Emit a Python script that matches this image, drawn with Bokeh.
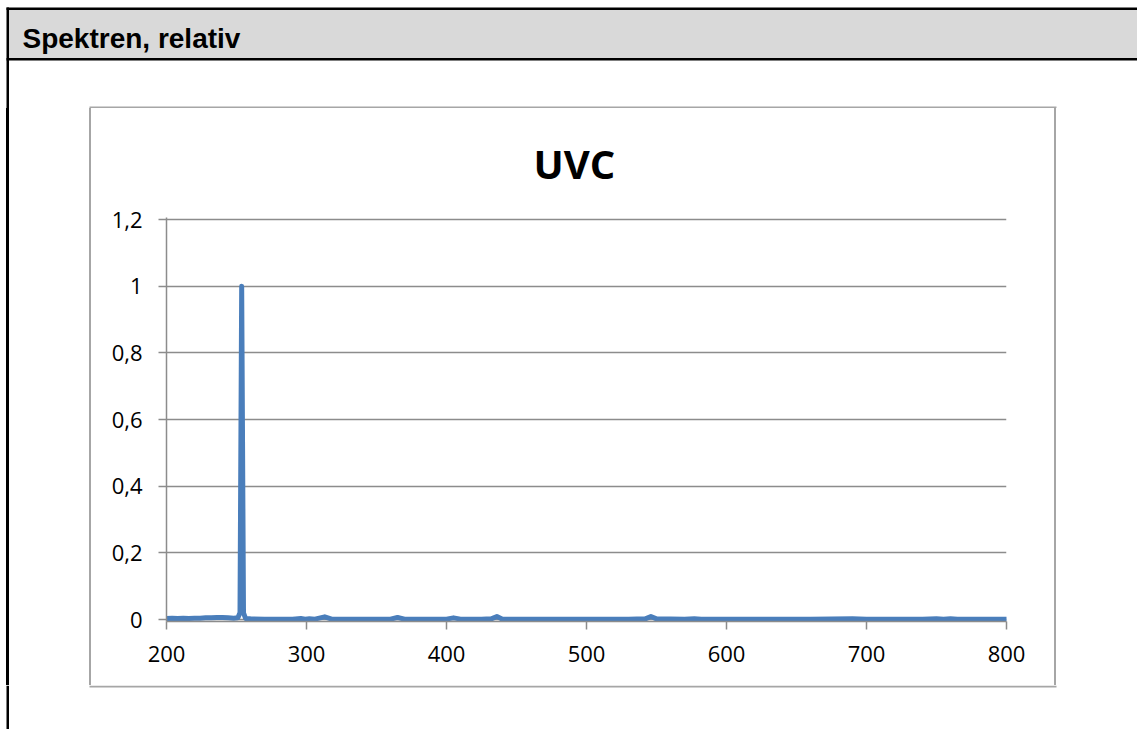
from bokeh.plotting import figure
from bokeh.models import BoxAnnotation, Label, FixedTicker, Range1d, Div
from bokeh.layouts import column, row
from bokeh.embed import file_html
from bokeh.resources import INLINE

# ---- data ----
wavelength = [200, 204, 208, 212, 216, 220, 224, 228, 232, 236, 240, 244, 248, 251, 252.5,
              253.7, 255, 256.5, 260, 270, 280, 290, 296, 299, 302, 306, 313, 318, 330,
              350, 360, 365, 370, 390, 400, 405, 410, 425, 432, 436, 440, 460, 500,
              530, 542, 546, 550, 570, 577, 582, 620, 660, 690, 700, 740, 750, 755,
              760, 765, 780, 800]
relative = [0.003, 0.004, 0.003, 0.004, 0.003, 0.004, 0.004, 0.005, 0.005, 0.006, 0.006, 0.005,
            0.004, 0.005, 0.02,
            1.0, 0.02, 0.003, 0.002, 0.001, 0.001, 0.001, 0.003, 0.001, 0.002, 0.001, 0.008, 0.001, 0.001,
            0.001, 0.001, 0.006, 0.001, 0.001, 0.001, 0.005, 0.001, 0.001, 0.002, 0.009, 0.001, 0.001, 0.001,
            0.001, 0.002, 0.009, 0.002, 0.001, 0.002, 0.001, 0.001, 0.001, 0.002, 0.001, 0.001, 0.002, 0.001,
            0.002, 0.001, 0.001, 0.001]

x_ticks = [200, 300, 400, 500, 600, 700, 800]
y_ticks = [0, 0.2, 0.4, 0.6, 0.8, 1.0, 1.2]
y_tick_labels = ["0", "0,2", "0,4", "0,6", "0,8", "1", "1,2"]

header_text = "Spektren, relativ"
chart_title = "UVC"

W = 1137
TOP_H = 108          # header strip (up to the chart box top edge)
MID_H = 577          # chart box interior height
BOT_H = 44
LEFT_W = 91
MAIN_W = 963
RIGHT_W = W - LEFT_W - MAIN_W

BLACK = "black"
BAND = "#d9d9d9"
BOXLINE = "#a6a6a6"


def deco(width, height):
    """A figure whose frame covers the whole canvas, for decoration only."""
    f = figure(width=width, height=height, output_backend="svg", toolbar_location=None,
               x_range=Range1d(0, width), y_range=Range1d(height, 0),
               x_axis_type=None, y_axis_type=None, min_border=0)
    f.min_border_left = f.min_border_right = f.min_border_top = f.min_border_bottom = 0
    f.outline_line_color = None
    f.grid.visible = False
    f.background_fill_color = "white"
    f.border_fill_color = "white"
    return f


def rect(f, l, r, t, b, color):
    f.add_layout(BoxAnnotation(left=l, right=r, top=t, bottom=b, fill_color=color,
                               fill_alpha=1, line_color=None))


def vbar_html(left_px, width_px, height, color):
    return ('<div style="position:absolute;left:%spx;top:0;width:%spx;height:%dpx;'
            'background:%s"></div>' % (left_px, width_px, height, color))


# ---- header strip ----
top = deco(W, TOP_H)
rect(top, 6, W, 7, 9.5, BLACK)           # top black rule
rect(top, 8.5, W, 9.5, 57.5, BAND)       # grey header band
rect(top, 6, W, 57.5, 60, BLACK)         # rule under header
rect(top, 6, 8.5, 7, TOP_H, BLACK)       # left black rule
rect(top, 89, 1056, TOP_H - 2, TOP_H, BOXLINE)   # chart box top edge
top.add_layout(Label(x=22, y=38, text=header_text, text_font="Liberation Sans",
                     text_font_style="bold", text_font_size="28px", text_color="black",
                     text_baseline="alphabetic", text_align="left"))

# ---- left / right strips (plain decoration) ----
left = Div(width=LEFT_W, height=MID_H, margin=0,
           text='<div style="position:relative;width:%dpx;height:%dpx">' % (LEFT_W, MID_H)
                + vbar_html(6, 2.5, MID_H, BLACK)
                + vbar_html(LEFT_W - 2, 2, MID_H, BOXLINE) + '</div>')
right = Div(width=RIGHT_W, height=MID_H, margin=0,
            text='<div style="position:relative;width:%dpx;height:%dpx">' % (RIGHT_W, MID_H)
                 + vbar_html(0, 2, MID_H, BOXLINE) + '</div>')

# ---- bottom strip ----
bot = deco(W, BOT_H)
rect(bot, 6, 8.5, 0, BOT_H, BLACK)
rect(bot, 89, 1056, 0, 2, BOXLINE)

# ---- main chart ----
p = figure(width=MAIN_W, height=MID_H, output_backend="svg", toolbar_location=None,
           x_range=Range1d(200, 800), y_range=Range1d(-0.006, 1.206),
           min_border_left=75, min_border_right=48, min_border_top=109,
           min_border_bottom=64)
p.outline_line_color = None
p.background_fill_color = "white"
p.border_fill_color = "white"

p.title.text = chart_title
p.title.align = "left"
p.title.vertical_align = "top"
p.title.text_font = "Open Sans"
p.title.text_font_style = "bold"
p.title.text_font_size = "40px"
p.title.text_color = "black"
p.title.offset = 367
p.title.standoff = 49

p.xgrid.grid_line_color = None
p.ygrid.grid_line_color = "#8c8c8c"
p.ygrid.grid_line_width = 1.5
p.ygrid.ticker = FixedTicker(ticks=y_ticks)

for ax in (p.xaxis[0], p.yaxis[0]):
    ax.axis_line_color = "#8c8c8c"
    ax.axis_line_width = 1.5
    ax.major_tick_line_color = "#8c8c8c"
    ax.major_tick_line_width = 1.5
    ax.major_tick_in = 0
    ax.major_tick_out = 8
    ax.minor_tick_line_color = None
    ax.major_label_text_font = "Open Sans"
    ax.major_label_text_font_size = "22px"
    ax.major_label_text_color = "black"

p.xaxis.ticker = FixedTicker(ticks=x_ticks)
p.yaxis.ticker = FixedTicker(ticks=y_ticks)
p.yaxis.major_label_overrides = {t: l for t, l in zip(y_ticks, y_tick_labels)}
p.yaxis.major_label_standoff = 16
p.xaxis.major_label_standoff = 16

p.line(wavelength, relative, line_width=5, line_color="#4a7ebb",
       line_join="round", line_cap="round")

layout = column(top, row(left, p, right), bot)

open("out.html", "w").write(file_html(layout, INLINE))
